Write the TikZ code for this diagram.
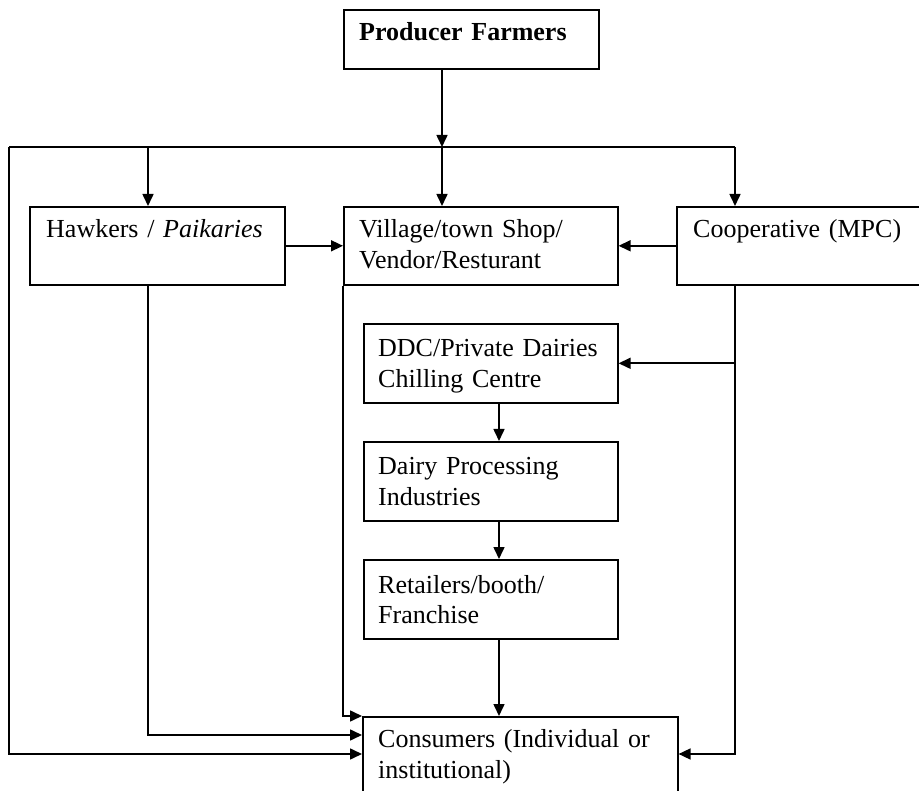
\documentclass[tikz,border=0pt]{standalone}
\usepackage{fontspec}
\setmainfont{Liberation Serif}
\usetikzlibrary{arrows.meta}
\tikzset{
  box/.style={draw, line width=1.6pt, inner sep=0pt, anchor=north west},
  txt/.style={inner sep=0pt, anchor=base west, font=\fontsize{26}{31}\selectfont, text width=330pt, align=left},
  conn/.style={line width=1.6pt},
  arr/.style={conn, -{Triangle[length=12pt,width=11pt]}},
}
\begin{document}
\begin{tikzpicture}[x=1pt,y=-1pt]
\useasboundingbox (0,0) rectangle (919,791);
\clip (0,0) rectangle (919,791);
% boxes
\node[box, minimum width=255, minimum height=59] (prod) at (343,9) {};
\node[box, minimum width=255, minimum height=78] (hawk) at (29,206) {};
\node[box, minimum width=274, minimum height=78] (vil) at (343,206) {};
\node[box, minimum width=260, minimum height=78] (coop) at (676,206) {};
\node[box, minimum width=254, minimum height=79] (ddc) at (363,323) {};
\node[box, minimum width=254, minimum height=79] (dpi) at (363,441) {};
\node[box, minimum width=254, minimum height=79] (ret) at (363,559) {};
\node[box, minimum width=315, minimum height=110] (cons) at (362,716) {};
% texts
\node[txt] (prodt) at (359,41) {\bfseries Producer Farmers};
\node[txt] (hawkt) at (46,238) {Hawkers / \textit{Paikaries}};
\node[txt] (vilt) at (359,238) {Village/town Shop/\\Vendor/Resturant};
\node[txt] (coopt) at (693,238) {Cooperative (MPC)};
\node[txt] (ddct) at (378,357) {DDC/Private Dairies\\Chilling Centre};
\node[txt] (dpit) at (378,475) {Dairy Processing\\Industries};
\node[txt] (rett) at (378,593) {Retailers/booth/\\Franchise};
\node[txt] (const) at (378,747) {Consumers (Individual or\\institutional)};
% junction coordinates
\coordinate (bL) at (9,147);
\coordinate (bH) at (148,147);
\coordinate (bC) at (442,147);
\coordinate (bR) at (735,147);
\coordinate (dx) at (499,0);
\coordinate (yA) at (0,716);
\coordinate (yB) at (0,735);
\coordinate (yC) at (0,754);
% connectors
\draw[arr] (prod.south -| bC) -- (bC);
\draw[conn] (bL) -- (bR);
\draw[arr] (bH) -- (bH |- hawk.north);
\draw[arr] (bC) -- (bC |- vil.north);
\draw[arr] (bR) -- (bR |- coop.north);
\draw[arr] (hawk.east) -- (vil.west);
\draw[arr] (coop.west) -- (vil.east);
\draw[arr] (ddc.south -| dx) -- (dx |- dpi.north);
\draw[arr] (dpi.south -| dx) -- (dx |- ret.north);
\draw[arr] (ret.south -| dx) -- (dx |- cons.north);
\draw[arr] (bR |- coop.south) |- (cons.east |- yC);
\draw[arr] (bR |- ddc.east) -- (ddc.east);
\draw[arr] (vil.south west) |- (cons.west |- yA);
\draw[arr] (bH |- hawk.south) |- (cons.west |- yB);
\draw[arr] (bL) |- (cons.west |- yC);
\end{tikzpicture}
\end{document}
